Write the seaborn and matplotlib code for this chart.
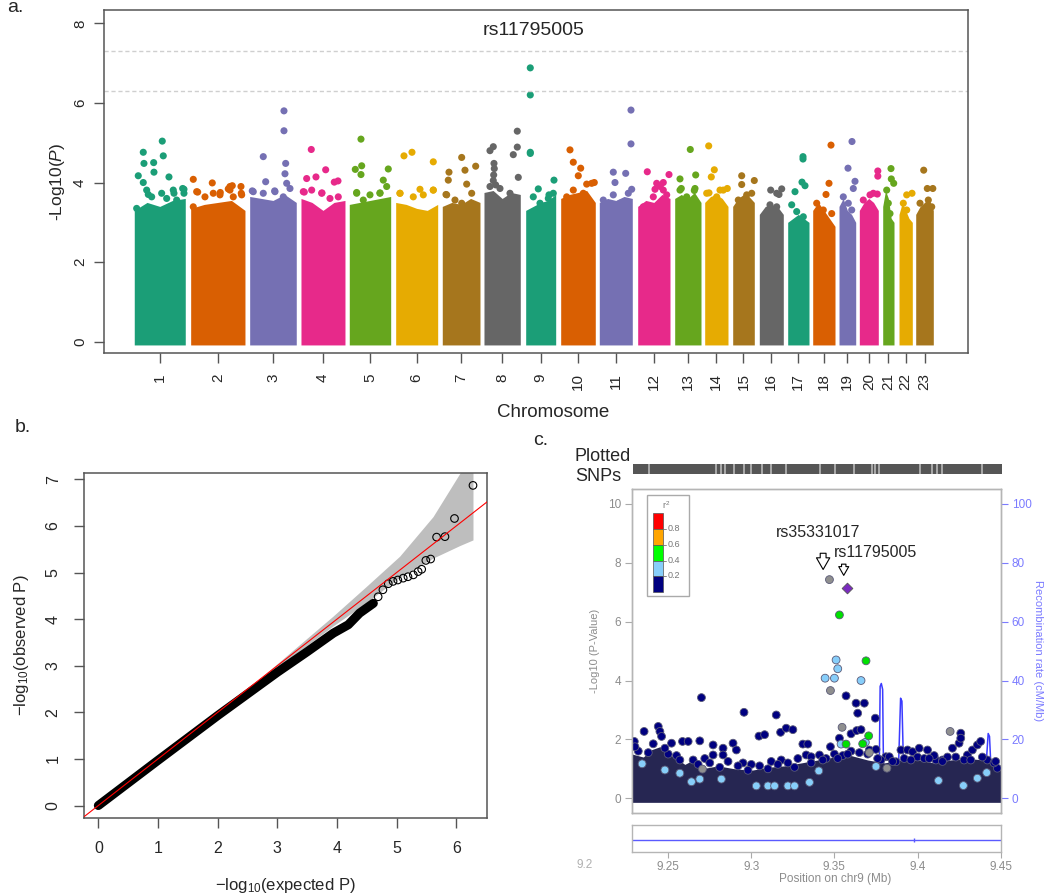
import numpy as np
import pandas as pd
import matplotlib
matplotlib.use("Agg")
import matplotlib.pyplot as plt
from matplotlib.patches import Rectangle
import seaborn as sns

# ---------------- panel a: Manhattan plot ----------------
chromosomes = list(range(1, 24))
# cumulative genome position (plot units) of each chromosome
chrom_start = [30.0, 86.4, 145.4, 196.7, 245.0, 291.4, 338.0, 379.7, 421.4, 456.4, 495.0, 533.4,
               570.4, 600.4, 628.4, 655.0, 683.4, 708.4, 734.7, 755.0, 778.4, 794.7, 811.4]
chrom_end = [81.0, 140.7, 192.0, 240.7, 286.4, 333.4, 375.7, 416.0, 451.4, 491.0, 528.0, 565.7,
             596.7, 623.7, 650.0, 679.0, 704.7, 730.7, 751.4, 774.0, 789.7, 808.0, 829.0]
# top of the dense SNP cloud, read left -> right across each chromosome
cloud_top = [
    [3.3, 3.5, 3.4, 3.55, 3.6], [3.35, 3.45, 3.5, 3.55, 3.3], [3.65, 3.6, 3.55, 3.7, 3.5],
    [3.6, 3.5, 3.3, 3.5, 3.55], [3.45, 3.5, 3.55, 3.6, 3.65], [3.5, 3.45, 3.35, 3.3, 3.45],
    [3.4, 3.5, 3.45, 3.6, 3.5], [3.75, 3.8, 3.6, 3.75, 3.7], [3.3, 3.4, 3.5, 3.55, 3.7],
    [3.6, 3.7, 3.75, 3.8, 3.5], [3.5, 3.6, 3.55, 3.65, 3.6], [3.4, 3.55, 3.5, 3.7, 3.6],
    [3.6, 3.7, 3.6, 3.75, 3.5], [3.5, 3.65, 3.7, 3.6, 3.4], [3.4, 3.6, 3.7, 3.65, 3.5],
    [3.2, 3.4, 3.45, 3.4, 3.2], [3.0, 3.1, 3.2, 3.1, 3.0], [3.3, 3.5, 3.3, 3.1, 2.9],
    [3.4, 3.6, 3.3, 3.2, 3.0], [3.3, 3.5, 3.6, 3.5, 3.3], [3.4, 3.8, 3.6, 3.1, 3.0],
    [3.2, 3.5, 3.3, 3.1, 3.0], [3.2, 3.4, 3.5, 3.6, 3.3],
]
# individual SNPs standing above the cloud
hit_chr = ([1] * 13 + [2] * 9 + [3] * 9 + [4] * 8 + [5] * 8 + [6] * 6 + [7] * 7 + [8] * 11 + [9] * 7
           + [10] * 6 + [11] * 6 + [12] * 6 + [13] * 5 + [14] * 6 + [15] * 3 + [16] * 3 + [17] * 5
           + [18] * 3 + [19] * 4 + [20] * 3 + [21] * 3 + [22] * 2 + [23] * 3)
hit_pos = [34.0, 39.0, 39.0, 39.7, 49.4, 49.7, 58.0, 59.0, 64.7, 79.7, 42.4, 69.7, 78.4,
           89.0, 93.4, 108.0, 116.0, 124.0, 125.7, 128.0, 136.7, 137.0,
           148.0, 159.0, 161.4, 179.7, 179.7, 181.4, 180.7, 182.4, 170.4,
           207.0, 202.4, 211.7, 221.4, 230.0, 233.7, 200.0, 217.7,
           256.7, 251.0, 257.4, 256.7, 284.0, 279.0, 252.4, 275.7,
           299.7, 307.7, 329.0, 315.7, 295.7, 329.0,
           344.7, 357.4, 360.7, 371.4, 362.4, 344.0, 341.7,
           389.0, 385.7, 389.7, 389.4, 413.0, 413.0, 409.0, 414.0, 391.4, 390.0, 389.0,
           426.0, 426.0, 426.0, 426.0, 434.0, 449.7, 444.7,
           465.7, 469.0, 476.4, 474.0, 482.4, 490.0,
           526.7, 526.7, 509.0, 521.4, 510.7, 527.4,
           543.0, 564.7, 552.4, 550.7, 559.0, 556.0,
           586.0, 591.4, 575.7, 577.0, 590.0,
           604.4, 610.0, 607.0, 604.7, 615.7, 623.0,
           637.4, 637.4, 650.0,
           666.4, 677.4, 674.7,
           698.7, 698.7, 697.7, 700.7, 690.7,
           726.7, 724.7, 721.7,
           747.7, 743.7, 750.7, 749.0,
           773.5, 773.5, 773.0,
           786.7, 787.0, 789.4,
           807.7, 802.4,
           819.4, 828.5, 823.0]
hit_logp = [4.17, 4.0, 4.76, 4.48, 4.5, 4.26, 5.04, 4.67, 4.14, 3.83, 3.81, 3.73, 3.85,
            4.08, 3.76, 3.99, 3.75, 3.84, 3.9, 3.92, 3.9, 3.73,
            3.79, 4.65, 4.02, 5.8, 5.3, 4.48, 4.22, 3.98, 3.79,
            4.83, 4.1, 4.14, 4.32, 4.01, 4.04, 3.76, 3.74,
            5.09, 4.33, 4.42, 4.2, 4.34, 4.06, 3.75, 3.74,
            4.67, 4.76, 4.52, 3.83, 3.73, 3.81,
            4.26, 4.63, 4.31, 4.41, 3.96, 4.06, 3.7,
            4.9, 4.8, 4.48, 4.19, 5.29, 4.89, 4.7, 4.13, 3.94, 4.35, 4.05,
            6.88, 6.2, 4.76, 4.73, 3.84, 4.06, 3.69,
            4.82, 4.51, 4.36, 4.17, 3.96, 4.0,
            5.82, 4.97, 4.26, 4.23, 4.0, 3.83,
            4.27, 4.2, 3.98, 3.83, 4.0, 3.9,
            4.83, 4.19, 4.09, 3.85, 3.8,
            4.92, 4.32, 4.14, 3.74, 3.81, 3.85,
            4.17, 3.95, 4.05,
            3.81, 3.84, 3.7,
            4.65, 4.59, 4.01, 3.92, 3.77,
            4.94, 3.98, 3.7,
            5.03, 4.36, 4.03, 3.85,
            4.29, 4.16, 3.71,
            4.35, 4.09, 3.98,
            3.73, 3.69,
            4.31, 3.85, 3.85]
# SNPs on the ragged upper edge of each cloud
edge_chr = ([1] * 8 + [2] * 8 + [3] * 5 + [4] * 5 + [5] * 5 + [6] * 4 + [7] * 4 + [8] * 3 + [9] * 4
            + [10] * 4 + [11] * 4 + [12] * 4 + [13] * 3 + [14] * 3 + [15] * 3 + [16] * 3 + [17] * 3
            + [18] * 3 + [19] * 3 + [20] * 3 + [21] * 3 + [22] * 2 + [23] * 3)
edge_pos = [32.4, 47.4, 57.4, 62.4, 69.0, 72.4, 79.7, 44.0,
            92.4, 100.7, 109.0, 115.7, 125.7, 129.0, 137.4, 89.0,
            149.0, 159.0, 170.7, 179.0, 185.7,
            199.0, 207.4, 217.4, 225.7, 234.0,
            252.4, 259.0, 265.7, 275.7, 282.4,
            295.7, 309.0, 319.0, 329.0,
            342.4, 350.7, 357.4, 367.4,
            385.7, 395.7, 405.7,
            429.0, 435.7, 444.0, 449.0,
            462.4, 469.0, 479.0, 487.4,
            499.0, 509.0, 515.7, 524.0,
            539.0, 549.0, 559.0, 562.4,
            575.7, 582.4, 590.7,
            602.4, 612.4, 619.0,
            634.0, 642.4, 647.4,
            672.4, 665.7, 672.4,
            687.4, 692.4, 699.0,
            712.4, 719.0, 727.4,
            739.0, 744.0, 747.4,
            759.0, 765.7, 769.0,
            782.4, 784.0, 785.7,
            799.0, 802.4,
            815.7, 824.0, 827.4]
edge_logp = [3.35, 3.64, 3.73, 3.60, 3.81, 3.56, 3.73, 3.70,
             3.77, 3.64, 3.73, 3.69, 3.81, 3.64, 3.69, 3.39,
             3.77, 3.73, 3.77, 3.64, 3.85,
             3.77, 3.81, 3.73, 3.60, 3.64,
             3.73, 3.56, 3.69, 3.73, 3.90,
             3.73, 3.64, 3.69, 3.81,
             3.69, 3.56, 3.48, 3.73,
             3.90, 3.85, 3.73,
             3.64, 3.48, 3.60, 3.73,
             3.64, 3.81, 3.73, 3.98,
             3.56, 3.69, 3.48, 3.73,
             3.39, 3.64, 3.81, 3.69,
             3.81, 3.64, 3.85,
             3.73, 3.64, 3.81,
             3.56, 3.69, 3.73,
             3.73, 3.44, 3.39,
             3.44, 3.27, 3.14,
             3.48, 3.31, 3.22,
             3.64, 3.48, 3.31,
             3.56, 3.69, 3.73,
             3.81, 3.48, 3.22,
             3.48, 3.31,
             3.48, 3.56, 3.39]
genomewide_line = 7.3
suggestive_line = 6.3
top_snp = "rs11795005"

# ---------------- panel b: QQ plot ----------------
qq_exp = [0, 1, 2, 3, 3.5, 3.94, 4.19, 4.38, 4.61]
qq_obs = [0, 0.97, 1.93, 2.86, 3.3, 3.70, 3.88, 4.13, 4.34]
qq_tail_exp = [4.69, 4.77, 4.86, 4.94, 5.02, 5.11, 5.19, 5.28, 5.36, 5.42, 5.49, 5.57, 5.67, 5.81, 5.97, 6.28]
qq_tail_obs = [4.48, 4.63, 4.76, 4.81, 4.84, 4.88, 4.91, 4.95, 5.02, 5.07, 5.26, 5.29, 5.76, 5.77, 6.16, 6.87]
qq_band_exp = [2.5, 2.93, 3.93, 4.49, 5.05, 5.61, 6.06, 6.28]
qq_band_hi = [2.5, 2.97, 4.06, 4.70, 5.35, 6.20, 7.13, 7.6]
qq_band_lo = [2.5, 2.89, 3.85, 4.35, 4.90, 5.31, 5.58, 5.70]

# ---------------- panel c: regional plot chr9 ----------------
region = (9.2284, 9.45)
carpet_pos = [9.2284, 9.235, 9.24, 9.245, 9.25, 9.255, 9.26, 9.265, 9.27, 9.28, 9.29, 9.30, 9.31,
              9.32, 9.33, 9.34, 9.35, 9.36, 9.37, 9.38, 9.39, 9.40, 9.41, 9.42, 9.43, 9.44, 9.45]
carpet_top = [1.5, 1.4, 1.65, 1.75, 1.5, 1.35, 1.15, 1.3, 1.0, 1.1, 1.0, 0.95, 1.05,
              1.1, 1.2, 1.3, 1.4, 1.45, 1.3, 1.2, 1.3, 1.3, 1.2, 1.3, 1.35, 1.3, 1.1]
navy_pos = [9.2296, 9.2355, 9.244, 9.245, 9.246, 9.252, 9.2586, 9.262, 9.270, 9.277, 9.277, 9.283,
            9.283, 9.289, 9.291, 9.2956, 9.3046, 9.308, 9.315, 9.3176, 9.321, 9.325, 9.331, 9.334,
            9.333, 9.336, 9.341, 9.3476, 9.353, 9.357, 9.363, 9.368, 9.364, 9.3746, 9.360, 9.3634,
            9.366, 9.371, 9.375, 9.381, 9.383, 9.387, 9.390, 9.394, 9.397, 9.401, 9.406, 9.411,
            9.415, 9.421, 9.425, 9.426, 9.426, 9.430, 9.433, 9.436, 9.438, 9.448, 9.269,
            9.232, 9.238, 9.250, 9.255, 9.265, 9.272, 9.286, 9.295, 9.300, 9.305, 9.312, 9.318,
            9.322, 9.328, 9.345, 9.350, 9.355, 9.360, 9.370, 9.378, 9.392, 9.400, 9.404, 9.410,
            9.418, 9.428, 9.442, 9.446,
            9.2300, 9.2410, 9.2480, 9.2570, 9.2680, 9.2750, 9.2810, 9.2920, 9.2980, 9.3100,
            9.3160, 9.3260, 9.3360, 9.3430, 9.3520, 9.3580, 9.3650, 9.3760, 9.3850, 9.3960,
            9.4070, 9.4150, 9.4230, 9.4320, 9.4390, 9.4470]
navy_logp = [1.93, 2.27, 2.44, 2.27, 2.10, 1.87, 1.93, 1.93, 3.42, 1.81, 1.47, 1.70,
             1.47, 1.87, 1.64, 2.92, 2.11, 2.16, 2.83, 2.24, 2.38, 2.33, 1.84, 1.84,
             1.47, 1.41, 1.47, 1.75, 2.04, 3.48, 3.23, 3.23, 2.89, 2.72, 2.19, 2.30,
             2.33, 1.64, 1.66, 1.41, 1.41, 1.24, 1.64, 1.64, 1.58, 1.70, 1.64, 1.30,
             1.30, 1.70, 1.87, 2.21, 2.04, 1.47, 1.64, 1.81, 1.93, 1.02, 1.95,
             1.6, 1.55, 1.5, 1.45, 1.3, 1.35, 1.25, 1.2, 1.15, 1.1, 1.25, 1.3,
             1.2, 1.35, 1.35, 1.5, 1.45, 1.6, 1.5, 1.3, 1.35, 1.4, 1.35, 1.45,
             1.4, 1.3, 1.3, 1.2,
             1.75, 1.85, 1.7, 1.3, 1.15, 1.2, 1.05, 1.1, 0.95, 1.0,
             1.15, 1.05, 1.2, 1.3, 1.35, 1.5, 1.55, 1.35, 1.25, 1.3,
             1.35, 1.25, 1.4, 1.3, 1.4, 1.25]
lblue_pos = [9.2343, 9.248, 9.257, 9.264, 9.269, 9.282, 9.303, 9.310, 9.314, 9.322, 9.326, 9.335,
             9.3406, 9.351, 9.352, 9.3444, 9.350, 9.366, 9.354, 9.3686, 9.375, 9.4126, 9.4276,
             9.436, 9.4416]
lblue_logp = [1.17, 0.96, 0.85, 0.56, 0.65, 0.65, 0.42, 0.42, 0.42, 0.42, 0.42, 0.54,
              0.93, 4.70, 4.40, 4.08, 4.08, 4.0, 1.84, 1.9, 1.08, 0.60, 0.43,
              0.68, 0.87]
grey_pos = [9.347, 9.3476, 9.3546, 9.371, 9.2706, 9.3816, 9.4196]
grey_logp = [7.43, 3.66, 2.41, 1.55, 0.99, 1.02, 2.27]
green_pos = [9.353, 9.369, 9.3706, 9.357, 9.367]
green_logp = [6.23, 4.67, 2.12, 1.84, 1.85]
index_pos, index_logp = 9.3574, 7.14
recomb_pos = [9.2284, 9.30, 9.3768, 9.3775, 9.3782, 9.3790, 9.3797, 9.388, 9.3898, 9.3906, 9.392,
              9.440, 9.4425, 9.4433, 9.445, 9.45]
recomb_rate = [0.3, 0.3, 0.4, 38.0, 39.0, 37.0, 0.5, 0.4, 34.0, 33.0, 0.4,
               0.5, 22.0, 21.0, 0.4, 0.3]
snp_gaps = [9.2379, 9.2784, 9.2814, 9.2836, 9.2890, 9.2950, 9.2990, 9.3060, 9.3114, 9.3204,
            9.3410, 9.3500, 9.3610, 9.3720, 9.3740, 9.3760, 9.4010, 9.4080, 9.4110, 9.4140, 9.4381]
r2_colors = ["#FF0000", "#FFA500", "#00FF00", "#87CEFA", "#000080"]
r2_breaks = ["0.8", "0.6", "0.4", "0.2"]

# ---------------- style ----------------
sns.set_theme(style="ticks")
plt.rcParams["font.family"] = ["Liberation Sans", "DejaVu Sans"]
plt.rcParams["mathtext.fontset"] = "custom"
plt.rcParams["mathtext.rm"] = "Liberation Sans"
plt.rcParams["mathtext.it"] = "Liberation Sans:italic"

fig = plt.figure(figsize=(10.5, 8.94), dpi=100)

# ===== a =====
ax_a = fig.add_axes([0.0993, 0.6048, 0.8229, 0.3843])
dark2 = sns.color_palette("Dark2", 8)
chrom_colors = {c: dark2[(c - 1) % 8] for c in chromosomes}
for c, s, e, top in zip(chromosomes, chrom_start, chrom_end, cloud_top):
    xs = np.linspace(s, e, len(top))
    ax_a.fill_between(xs, -0.08, top, color=chrom_colors[c], lw=0)
hits = pd.DataFrame({"chr": edge_chr + hit_chr, "pos": edge_pos + hit_pos,
                     "logp": edge_logp + hit_logp})
sns.scatterplot(data=hits, x="pos", y="logp", hue="chr", palette=chrom_colors,
                s=26, linewidth=0, legend=False, ax=ax_a)
for yl in (genomewide_line, suggestive_line):
    ax_a.axhline(yl, color="#cfcfcf", ls=(0, (3, 2)), lw=1)
ax_a.set_xlim(0, 864)
ax_a.set_ylim(-0.29, 8.34)
ax_a.set_xticks([(s + e) / 2 for s, e in zip(chrom_start, chrom_end)])
ax_a.set_xticklabels([str(c) for c in chromosomes], rotation=90)
ax_a.set_yticks([0, 2, 4, 6, 8])
plt.setp(ax_a.get_yticklabels(), rotation=90, va="center")
ax_a.tick_params(axis="x", direction="out", length=7, width=1, color="#555555", labelsize=11, pad=7.5)
ax_a.tick_params(axis="y", direction="out", length=7, width=1, color="#555555", labelsize=11, pad=5.5)
for sp in ax_a.spines.values():
    sp.set_visible(True)
    sp.set_color("#555555")
    sp.set_linewidth(1.1)
ax_a.set_xlabel("")
ax_a.set_ylabel("")
fig.text(0.5080, 0.9608, top_snp, ha="center", va="baseline", fontsize=14)
fig.text(0.0543, 0.797, "-Log10($\\it{P}$)", rotation=90, ha="center", va="center", fontsize=12.5)
fig.text(0.5265, 0.5339, "Chromosome", ha="center", va="baseline", fontsize=13.5)
fig.text(0.0064, 0.9869, "a.", ha="left", va="baseline", fontsize=14)

# ===== b =====
ax_b = fig.add_axes([0.0803, 0.0854, 0.3838, 0.3852])
ax_b.fill_between(qq_band_exp, qq_band_lo, qq_band_hi, color="#bebebe", lw=0)
sns.lineplot(x=qq_exp, y=qq_obs, color="black", lw=6.5, sort=False, estimator=None,
             solid_capstyle="round", ax=ax_b)
sns.scatterplot(x=qq_tail_exp, y=qq_tail_obs, facecolor="none", edgecolor="black",
                s=30, linewidth=0.8, ax=ax_b)
ax_b.axline((0, 0), slope=1, color="red", lw=0.8, zorder=5)
ax_b.set_xlim(-0.235, 6.52)
ax_b.set_ylim(-0.26, 7.13)
ax_b.set_xticks(range(0, 7))
ax_b.set_yticks(range(0, 8))
plt.setp(ax_b.get_yticklabels(), rotation=90, va="center")
ax_b.tick_params(axis="x", direction="out", length=7, width=1, color="#555555", labelsize=11.5, pad=10)
ax_b.tick_params(axis="y", direction="out", length=7, width=1, color="#555555", labelsize=11.5, pad=10)
for sp in ax_b.spines.values():
    sp.set_visible(True)
    sp.set_color("#555555")
    sp.set_linewidth(1.1)
fig.text(0.2722, 0.0045, "$-$log$_{10}$(expected P)", ha="center", va="baseline", fontsize=12)
fig.text(0.0207, 0.278, "$-$log$_{10}$(observed P)", rotation=90, ha="center", va="center", fontsize=12)
fig.text(0.0143, 0.5171, "b.", ha="left", va="baseline", fontsize=14)

# ===== c =====
grey_txt = "#8c8c8c"
blue_txt = "#7b7bff"
ax_c = fig.add_axes([0.6022, 0.0910, 0.3508, 0.3617])
ax_r = ax_c.twinx()
ax_c.set_zorder(ax_r.get_zorder() + 1)
ax_c.patch.set_visible(False)

sns.lineplot(x=recomb_pos, y=recomb_rate, color="#3b3bff", lw=1.1, sort=False,
             estimator=None, ax=ax_r)
ax_r.set_ylim(-4.9, 105)
ax_r.set_yticks([0, 20, 40, 60, 80, 100])
ax_r.tick_params(axis="y", direction="out", length=5, width=0.8, color=blue_txt,
                 labelcolor=blue_txt, labelsize=8.5, pad=3)
ax_r.set_ylabel("")

ax_c.fill_between(carpet_pos, -0.14, carpet_top, color="#262652", lw=0)
pts = pd.DataFrame({
    "pos": navy_pos + lblue_pos + grey_pos + green_pos,
    "logp": navy_logp + lblue_logp + grey_logp + green_logp,
    "ld": ["navy"] * len(navy_pos) + ["lblue"] * len(lblue_pos) + ["grey"] * len(grey_pos)
          + ["green"] * len(green_pos),
})
ld_palette = {"navy": "#000080", "lblue": "#87CEFA", "grey": "#8f8f8f", "green": "#00E000"}
sns.scatterplot(data=pts, x="pos", y="logp", hue="ld", palette=ld_palette, s=32,
                edgecolor="#5a5a78", linewidth=0.6, legend=False, ax=ax_c)
sns.scatterplot(x=[index_pos], y=[index_logp], marker="D", color="#7a2bbf", s=30,
                edgecolor="#555555", linewidth=0.6, ax=ax_c)
ax_c.set_xlim(*region)
ax_c.set_ylim(-0.49, 10.5)
ax_c.set_xticks([])
ax_c.set_yticks([0, 2, 4, 6, 8, 10])
ax_c.tick_params(axis="y", direction="out", length=5, width=0.8, color="#aaaaaa",
                 labelcolor=grey_txt, labelsize=8.5, pad=3)
ax_c.set_xlabel("")
ax_c.set_ylabel("")
for a in (ax_c, ax_r):
    for sp in a.spines.values():
        sp.set_visible(True)
        sp.set_color("#b5b5b5")
        sp.set_linewidth(1)

# hollow arrows + labels
ax_c.annotate("", xy=(9.3432, 7.68), xytext=(9.3432, 8.42),
              arrowprops=dict(arrowstyle="simple,head_length=0.7,head_width=0.8,tail_width=0.35",
                              fc="white", ec="black", lw=0.8, mutation_scale=12))
ax_c.annotate("", xy=(9.3556, 7.48), xytext=(9.3556, 8.05),
              arrowprops=dict(arrowstyle="simple,head_length=0.7,head_width=0.8,tail_width=0.35",
                              fc="white", ec="black", lw=0.8, mutation_scale=9))
ax_c.text(9.3402, 9.03, "rs35331017", ha="center", va="center", fontsize=11.5)
ax_c.text(9.3748, 8.35, "rs11795005", ha="center", va="center", fontsize=11.5)

# r2 colour key
tr = ax_c.transAxes
ax_c.add_patch(Rectangle((0.039, 0.670), 0.115, 0.312, transform=tr, fc="white",
                         ec="#aaaaaa", lw=1, zorder=5))
key_edges = [0.9258, 0.8773, 0.8278, 0.7792, 0.7319, 0.6834]
for i, col in enumerate(r2_colors):
    ax_c.add_patch(Rectangle((0.0554, key_edges[i + 1]), 0.0288, key_edges[i] - key_edges[i + 1],
                             transform=tr, fc=col, ec="#555555", lw=0.5, zorder=6))
for i, lab in enumerate(r2_breaks):
    yk = key_edges[i + 1]
    ax_c.plot([0.0842, 0.092], [yk, yk], color="#777777", lw=0.6, transform=tr, zorder=6)
    ax_c.text(0.096, yk, lab, transform=tr, fontsize=6.5, color="#777777", va="center", zorder=6)
ax_c.text(0.092, 0.951, "r$^2$", transform=tr, fontsize=6.5, color="#777777", ha="center",
          va="center", zorder=6)

# plotted SNP rug
ax_s = fig.add_axes([0.6031, 0.4695, 0.3508, 0.0112])
ax_s.axvspan(region[0], region[1], color="#555555", lw=0)
ax_s.vlines(snp_gaps, 0, 1, color="#b8b8b8", lw=1.2)
ax_s.set_xlim(*region)
ax_s.set_ylim(0, 1)
ax_s.axis("off")
fig.text(0.5476, 0.4847, "Plotted", ha="left", va="baseline", fontsize=13)
fig.text(0.5476, 0.4623, "SNPs", ha="left", va="baseline", fontsize=13)

# gene track
ax_g = fig.add_axes([0.6022, 0.0473, 0.3508, 0.0299])
ax_g.axhline(0.44, color="#5a5aff", lw=1)
ax_g.plot([9.398], [0.44], marker="|", color="#5a5aff", ms=3)
ax_g.set_xlim(*region)
ax_g.set_ylim(0, 1)
ax_g.set_yticks([])
ax_g.set_xticks([9.25, 9.3, 9.35, 9.4, 9.45])
ax_g.set_xticklabels(["9.25", "9.3", "9.35", "9.4", "9.45"])
ax_g.tick_params(axis="x", direction="out", length=4, width=0.8, color="#aaaaaa",
                 labelcolor=grey_txt, labelsize=8.5, pad=3)
for sp in ax_g.spines.values():
    sp.set_visible(True)
    sp.set_color("#b5b5b5")
    sp.set_linewidth(1)
ax_g.text(9.2, -0.5, "9.2", transform=ax_g.get_xaxis_transform(), ha="center", va="center",
          fontsize=8.5, color="#b0b0b0", clip_on=False)

fig.text(0.7952, 0.0168, "Position on chr9 (Mb)", ha="center", va="center", fontsize=8.5, color=grey_txt)
fig.text(0.5667, 0.2718, "-Log10 (P-Value)", rotation=90, ha="center", va="center",
         fontsize=8, color=grey_txt)
fig.text(0.9883, 0.2718, "Recombination rate (cM/Mb)", rotation=270, ha="center", va="center",
         fontsize=8, color=blue_txt)
fig.text(0.508, 0.5022, "c.", ha="left", va="baseline", fontsize=14)

fig.savefig("out.png", dpi=100)
